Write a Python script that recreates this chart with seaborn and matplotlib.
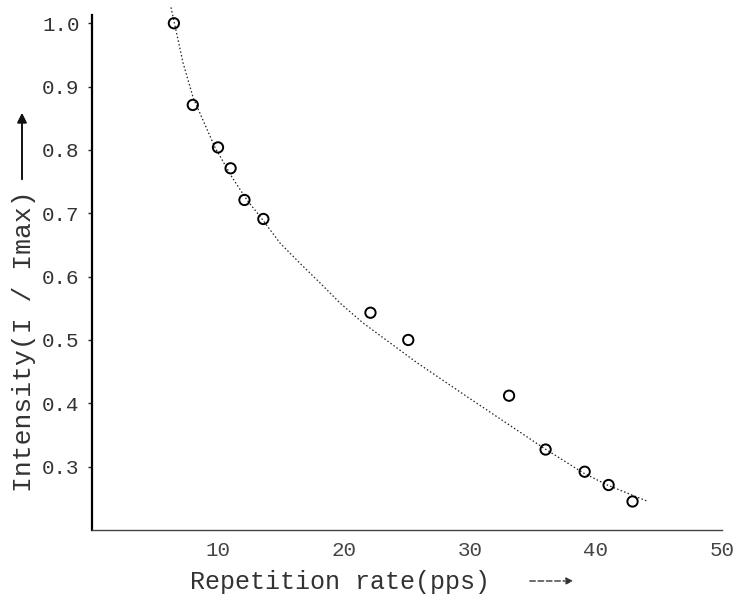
import matplotlib
matplotlib.use("Agg")
import matplotlib.pyplot as plt
import seaborn as sns
import pandas as pd

# measured points
rate_pps = [6.5, 8.0, 10.0, 11.0, 12.1, 13.6, 22.1, 25.1, 33.1, 36.0, 39.1, 41.0, 42.9]
intensity = [1.00, 0.871, 0.804, 0.771, 0.721, 0.691, 0.543, 0.500, 0.412, 0.327, 0.292, 0.271, 0.245]

# fitted curve
curve_x = [6.27, 7.22, 8.02, 8.81, 9.76, 11.11, 12.30, 13.57, 14.92, 16.51, 18.1, 19.7,
           21.5, 25.8, 29.8, 31.3, 35.8, 39.0, 40.9, 44.0]
curve_y = [1.025, 0.938, 0.883, 0.847, 0.804, 0.757, 0.721, 0.689, 0.653, 0.621, 0.590, 0.558,
           0.527, 0.464, 0.410, 0.390, 0.330, 0.290, 0.271, 0.246]

x_ticks = [10, 20, 30, 40, 50]
y_ticks = [0.3, 0.4, 0.5, 0.6, 0.7, 0.8, 0.9, 1.0]
y_ticklabels = ["0.3", "0.4", "0.5", "0.6", "0.7", "0.8", "0.9", "1.0"]

sns.set_style("ticks")
plt.rcParams["font.family"] = ["Liberation Mono", "DejaVu Sans Mono", "DejaVu Sans"]

fig = plt.figure(figsize=(7.38, 6.10), dpi=100)
ax = fig.add_axes([92 / 738, 1 - 530 / 610, 630 / 738, 515 / 610])

pts = pd.DataFrame({"rate": rate_pps, "intensity": intensity})
crv = pd.DataFrame({"x": curve_x, "y": curve_y})

sns.lineplot(data=crv, x="x", y="y", sort=False, ax=ax, color="#222222",
             linewidth=0.9, linestyle=(0, (1.2, 1.8)), clip_on=False)
sns.scatterplot(data=pts, x="rate", y="intensity", ax=ax, s=55, marker="o",
                facecolor="none", edgecolor="black", linewidth=1.4, zorder=3)

ax.set_xlim(0, 50)
ax.set_ylim(0.2, 1.013)
ax.set_xticks(x_ticks)
ax.set_xticklabels([str(t) for t in x_ticks])
ax.set_yticks(y_ticks)
ax.set_yticklabels(y_ticklabels)

sns.despine(ax=ax)
ax.spines["left"].set_linewidth(1.6)
ax.spines["left"].set_color("black")
ax.spines["bottom"].set_linewidth(1.0)
ax.spines["bottom"].set_color("#444444")

ax.tick_params(axis="y", direction="out", length=3, width=1, pad=6,
               labelsize=15, labelcolor="#333333")
ax.tick_params(axis="x", direction="out", length=0, pad=8,
               labelsize=15, labelcolor="#444444")

ax.set_xlabel("Repetition rate(pps)", fontsize=18, color="#333333")
ax.set_ylabel("Intensity(I / Imax)", fontsize=19, color="#333333")
ax.xaxis.set_label_coords((340 - 92) / 630, -(570 - 530) / 515)
ax.yaxis.set_label_coords((36 - 92) / 630, (530 - 341) / 515)

# axis-direction arrows
fig.add_artist(matplotlib.patches.FancyArrowPatch(
    (22 / 738, 1 - 182 / 610), (22 / 738, 1 - 110 / 610), transform=fig.transFigure,
    arrowstyle="-|>", mutation_scale=14, color="#111111", linewidth=1.4))
fig.add_artist(matplotlib.patches.FancyArrowPatch(
    (527 / 738, 1 - 581 / 610), (576 / 738, 1 - 581 / 610), transform=fig.transFigure,
    arrowstyle="-|>", mutation_scale=10, color="#333333", linewidth=1.0,
    linestyle=(0, (4, 2))))

fig.savefig("out.png", dpi=100)
